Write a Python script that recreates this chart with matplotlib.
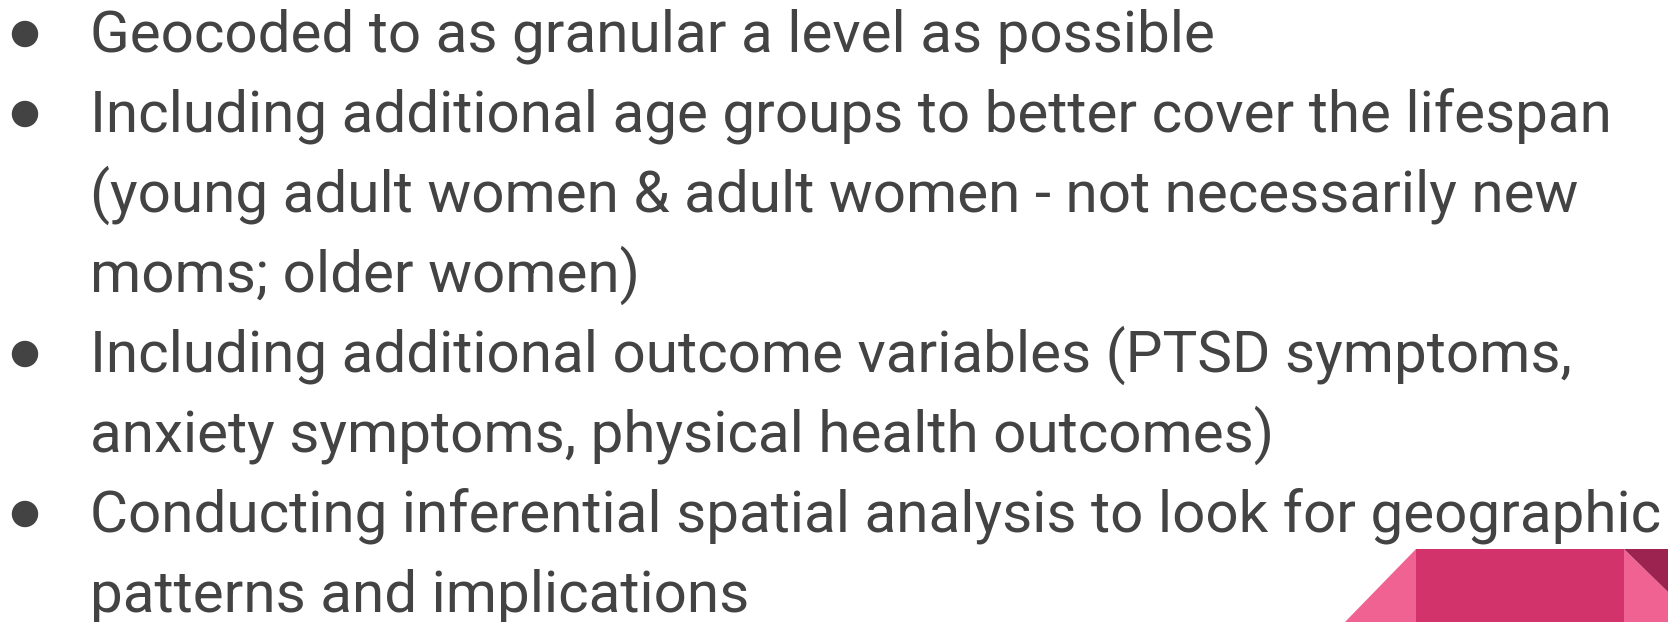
import matplotlib
matplotlib.use("Agg")
import matplotlib.pyplot as plt
from matplotlib.patches import Polygon, Circle

W, H = 1668, 622

lines = [
    "Geocoded to as granular a level as possible",
    "Including additional age groups to better cover the lifespan",
    "(young adult women & adult women - not necessarily new",
    "moms; older women)",
    "Including additional outcome variables (PTSD symptoms,",
    "anxiety symptoms, physical health outcomes)",
    "Conducting inferential spatial analysis to look for geographic",
    "patterns and implications",
]
bullets = [True, True, False, False, True, False, True, False]

text_color = "#434343"
fig = plt.figure(figsize=(W / 100, H / 100), dpi=100)
ax = fig.add_axes([0, 0, 1, 1])
ax.set_xlim(0, W)
ax.set_ylim(H, 0)
ax.axis("off")

base0, step = 52, 80
for i, (t, b) in enumerate(zip(lines, bullets)):
    y = base0 + step * i
    ax.text(90.5, y, t, fontsize=42.05, family="Roboto", color=text_color,
            va="baseline", ha="left")
    if b:
        ax.add_patch(Circle((25, y - 18), 12.5, color=text_color))

# decorative ribbon bottom right
ax.add_patch(Polygon([(1345, 622), (1416, 549), (1416, 622)], closed=True,
                     color="#F06292", lw=0))
ax.add_patch(Polygon([(1416, 549), (1624, 549), (1624, 622), (1416, 622)],
                     closed=True, color="#D1336A", lw=0))
ax.add_patch(Polygon([(1624, 549), (1668, 592), (1668, 622), (1624, 622)],
                     closed=True, color="#F06292", lw=0))
ax.add_patch(Polygon([(1624, 549), (1668, 549), (1668, 592)], closed=True,
                     color="#9C2350", lw=0))

fig.savefig("out.png", dpi=100, facecolor="white")
